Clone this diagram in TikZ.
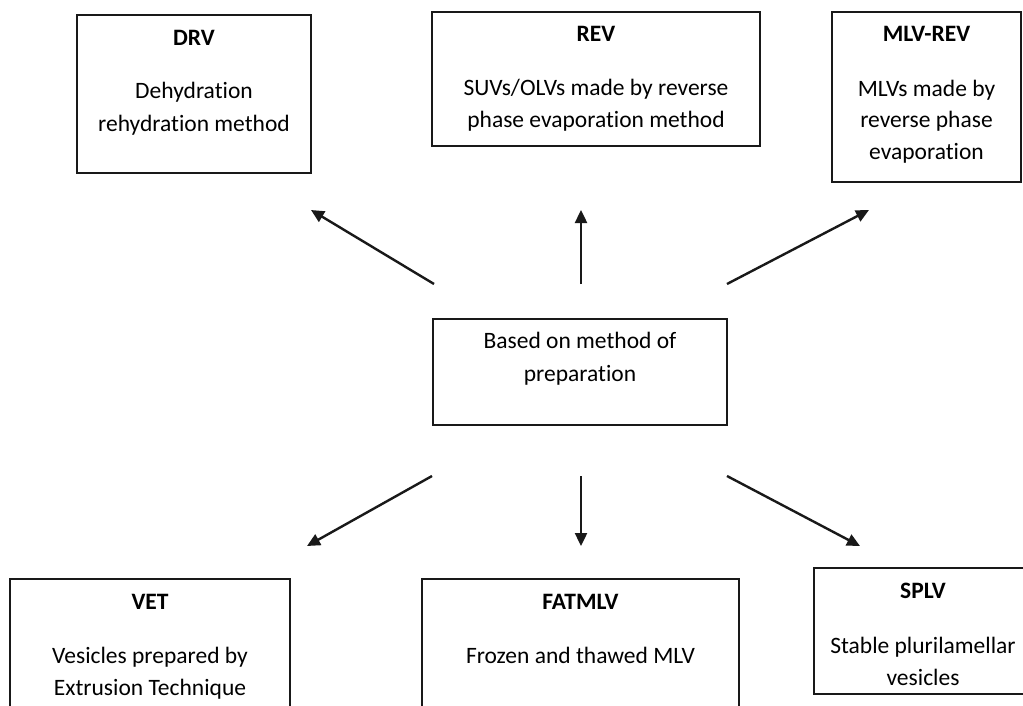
\documentclass[tikz,border=0pt]{standalone}
\usepackage{fontspec}
\setmainfont{Carlito}[Ligatures={NoCommon}]
\usetikzlibrary{arrows.meta}
\begin{document}
\begin{tikzpicture}[x=1pt,y=-1pt,
  box/.style={draw=black!90, line width=2.2pt, inner sep=0pt, outer sep=0pt},
  ttl/.style={anchor=base, inner sep=0pt, font=\fontsize{23.5}{28}\selectfont\bfseries},
  txt/.style={anchor=base, inner sep=0pt, font=\fontsize{23.5}{28}\selectfont},
  arr/.style={line width=2.4pt, draw=black!90, -{Triangle[length=13pt,width=12pt]}}
]
\useasboundingbox (0,0) rectangle (1023,706);
\fill[white] (0,0) rectangle (1023,706);
\clip (0,0) rectangle (1023,706);

% boxes
\node[box, minimum width=234pt, minimum height=158pt] (drv) at (194,94) {};
\node[box, minimum width=328pt, minimum height=134pt] (rev) at (596,79) {};
\node[box, minimum width=189pt, minimum height=170pt] (mlv) at (926.5,97) {};
\node[box, minimum width=294pt, minimum height=106pt] (ctr) at (580,372) {};
\node[box, minimum width=280pt, minimum height=151pt] (vet) at (150,654.5) {};
\node[box, minimum width=317pt, minimum height=151pt] (fat) at (580.5,654.5) {};
\node[box, minimum width=218pt, minimum height=126pt] (splv) at (923,631) {};

% texts
\node[ttl] (drvT) at (194,46) {DRV};
\node[txt] (drv1) at (194,99) {Dehydration};
\node[txt] (drv2) at (194,132) {rehydration method};

\node[ttl] (revT) at (596,42) {REV};
\node[txt] (rev1) at (596,96) {SUVs/OLVs made by reverse};
\node[txt] (rev2) at (596,128) {phase evaporation method};

\node[ttl] (mlvT) at (926.5,42) {MLV-REV};
\node[txt] (mlv1) at (926.5,97) {MLVs made by};
\node[txt] (mlv2) at (926.5,128) {reverse phase};
\node[txt] (mlv3) at (926.5,160) {evaporation};

\node[txt] (ctr1) at (580,348) {Based on method of};
\node[txt] (ctr2) at (580,381) {preparation};

\node[ttl] (vetT) at (150,609) {VET};
\node[txt] (vet1) at (150,663) {Vesicles prepared by};
\node[txt] (vet2) at (150,695) {Extrusion Technique};

\node[ttl] (fatT) at (580.5,609) {FATMLV};
\node[txt] (fat1) at (580.5,663) {Frozen and thawed MLV};

\node[ttl] (splvT) at (923,598) {SPLV};
\node[txt] (splv1) at (923,653) {Stable plurilamellar};
\node[txt] (splv2) at (923,685) {vesicles};

% arrow end points
\coordinate (s1) at (434,284); \coordinate (e1) at (311,210);
\coordinate (s2) at (581,284); \coordinate (e2) at (581,210);
\coordinate (s3) at (727,284); \coordinate (e3) at (869,210);
\coordinate (s4) at (432,476); \coordinate (e4) at (307,546);
\coordinate (s5) at (581,476); \coordinate (e5) at (581,546);
\coordinate (s6) at (727,476); \coordinate (e6) at (860,546);

\draw[arr] (s1) -- (e1);
\draw[arr] (s2) -- (e2);
\draw[arr] (s3) -- (e3);
\draw[arr] (s4) -- (e4);
\draw[arr] (s5) -- (e5);
\draw[arr] (s6) -- (e6);
\end{tikzpicture}
\end{document}
